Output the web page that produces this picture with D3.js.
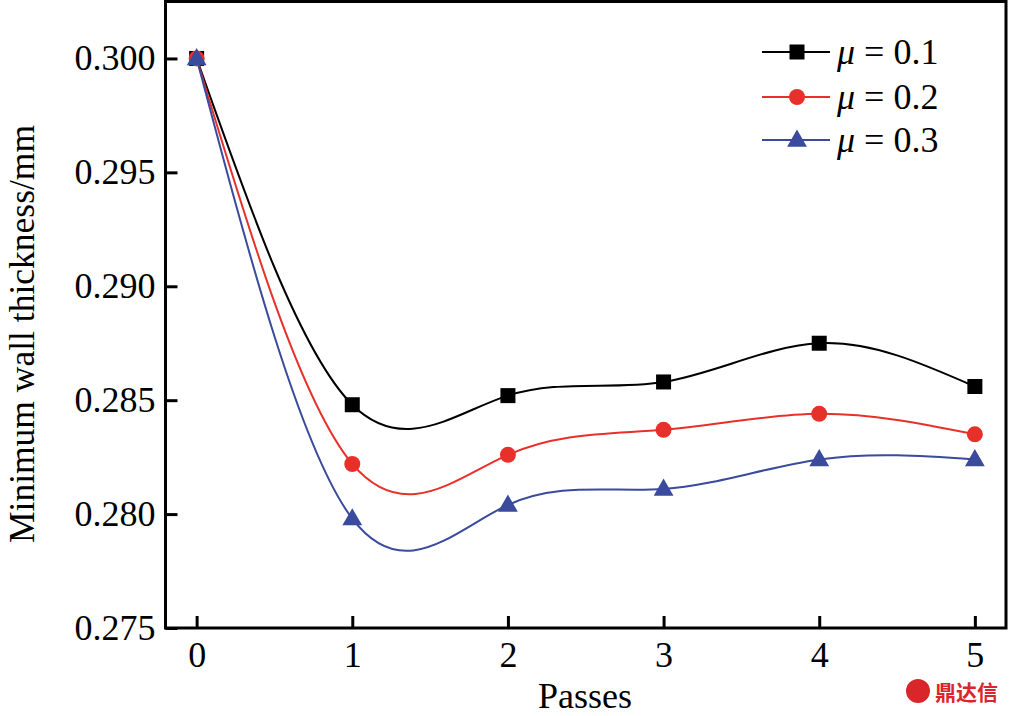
<!DOCTYPE html>
<html><head><meta charset="utf-8">
<script src="https://cdn.jsdelivr.net/npm/d3@7"></script>
<style>html,body{margin:0;padding:0;background:#fff;}svg{display:block;}</style>
</head><body>
<svg id="chart" width="1009" height="716"></svg>
<script>
const passes = [0, 1, 2, 3, 4, 5];
const mu01 = [0.3000, 0.2848, 0.2852, 0.2858, 0.2875, 0.2856];
const mu02 = [0.3000, 0.2822, 0.2826, 0.2837, 0.2844, 0.2835];
const mu03 = [0.3000, 0.2798, 0.2804, 0.2811, 0.2824, 0.2824];
const xTicks = [0, 1, 2, 3, 4, 5];
const yTicks = [0.275, 0.280, 0.285, 0.290, 0.295, 0.300];
const seriesNames = ["0.1", "0.2", "0.3"];

const svg = d3.select("#chart");
const L = 165.5, R = 1006, T = 1.5, B = 628;
const x = d3.scaleLinear().domain([-0.2, 5.2]).range([L, R]);
const y = d3.scaleLinear().domain([0.275, 0.3025]).range([B, T]);
const font = "'Liberation Serif','Times New Roman',serif";
const fs = 36;

const series = [
  {name: seriesNames[0], vals: mu01, color: "#000000", marker: "square"},
  {name: seriesNames[1], vals: mu02, color: "#e8302a", marker: "circle"},
  {name: seriesNames[2], vals: mu03, color: "#3a4a9c", marker: "triangle"}
];

const line = d3.line().x(d => x(d[0])).y(d => y(d[1])).curve(d3.curveNatural);

function marker(g, type, cx, cy, color) {
  if (type === "square") {
    g.append("rect").attr("x", cx - 7.5).attr("y", cy - 7.5).attr("width", 15).attr("height", 15).attr("fill", color);
  } else if (type === "circle") {
    g.append("circle").attr("cx", cx).attr("cy", cy).attr("r", 8).attr("fill", color);
  } else {
    const s = d3.symbol().type(d3.symbolTriangle).size(170);
    g.append("path").attr("d", s()).attr("transform", `translate(${cx},${cy + 1})`).attr("fill", color);
  }
}

series.forEach(s => {
  const pts = passes.map((p, i) => [p, s.vals[i]]);
  svg.append("path").attr("d", line(pts)).attr("fill", "none")
    .attr("stroke", s.color).attr("stroke-width", 2);
});
series.forEach(s => {
  const g = svg.append("g");
  passes.forEach((p, i) => marker(g, s.marker, x(p), y(s.vals[i]), s.color));
});

const xAxis = d3.axisBottom(x).tickValues(xTicks).tickSizeInner(-12).tickSizeOuter(0).tickPadding(18).tickFormat(d3.format("d"));
const gx = svg.append("g").attr("transform", `translate(0,${B})`).call(xAxis);
const yAxis = d3.axisLeft(y).tickValues(yTicks).tickSizeInner(-12).tickSizeOuter(0).tickPadding(10).tickFormat(d3.format(".3f"));
const gy = svg.append("g").attr("transform", `translate(${L},0)`).call(yAxis);
[gx, gy].forEach(g => {
  g.selectAll(".domain").remove();
  g.selectAll(".tick line").attr("stroke", "#000").attr("stroke-width", 3);
  g.selectAll(".tick text").attr("font-family", font).attr("font-size", fs).attr("fill", "#000");
});
gx.selectAll(".tick text").attr("dy", "0.71em").attr("y", 13);

svg.append("rect").attr("x", L).attr("y", T).attr("width", R - L).attr("height", B - T)
  .attr("fill", "none").attr("stroke", "#000").attr("stroke-width", 3);

svg.append("text").attr("x", 585).attr("y", 708).attr("text-anchor", "middle")
  .attr("font-family", font).attr("font-size", fs).text("Passes");
svg.append("text").attr("transform", "translate(34,334) rotate(-90)").attr("text-anchor", "middle")
  .attr("font-family", font).attr("font-size", 35.5).text("Minimum wall thickness/mm");

const legY = [52, 97, 140];
series.forEach((s, i) => {
  const g = svg.append("g");
  g.append("line").attr("x1", 762).attr("x2", 830).attr("y1", legY[i]).attr("y2", legY[i])
    .attr("stroke", s.color).attr("stroke-width", 2);
  marker(g, s.marker, 797, legY[i], s.color);
  const t = g.append("text").attr("x", 837).attr("y", legY[i] + 12)
    .attr("font-family", font).attr("font-size", fs);
  t.append("tspan").attr("font-style", "italic").text("μ");
  t.append("tspan").text(" = " + s.name);
});

const wm = svg.append("g");
wm.append("circle").attr("cx", 918).attr("cy", 691).attr("r", 12).attr("fill", "#d8262b");
wm.append("text").attr("x", 935).attr("y", 700).attr("font-family", "'Noto Sans CJK SC'")
  .attr("font-weight", "bold").attr("font-size", 21).attr("fill", "#d8262b").text("鼎达信");
</script>
</body></html>
